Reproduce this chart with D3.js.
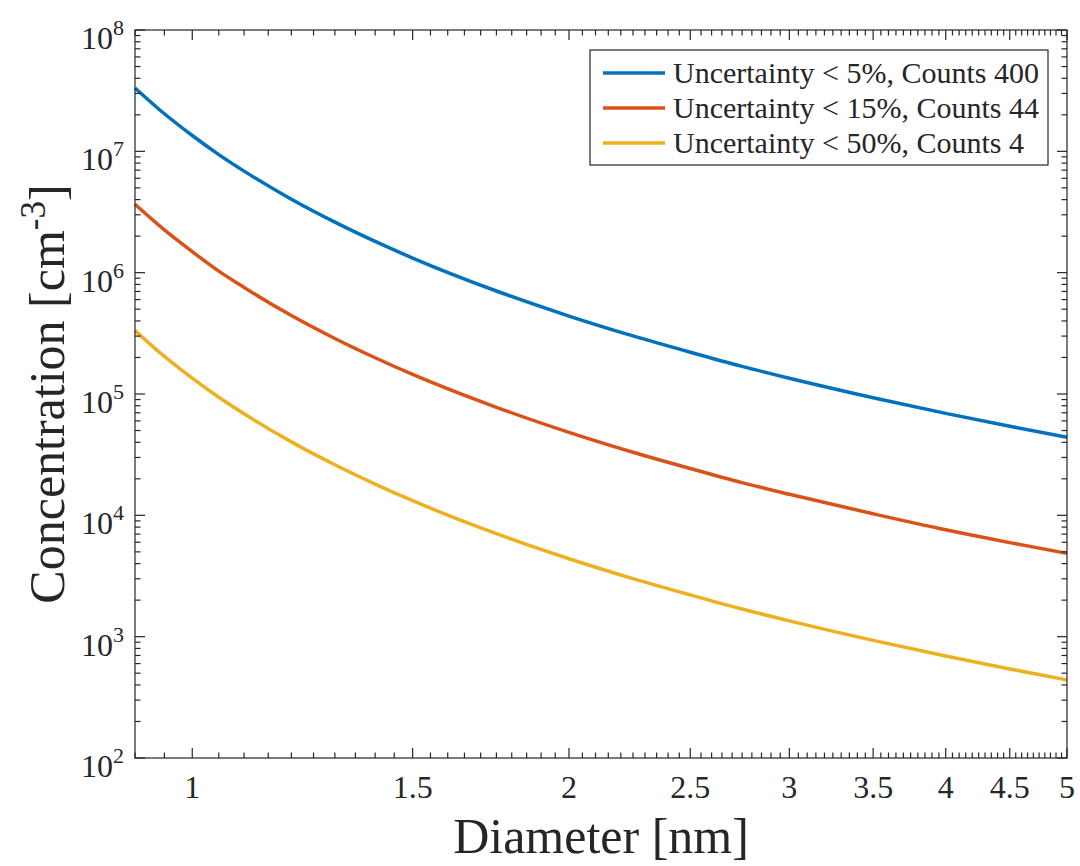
<!DOCTYPE html>
<html>
<head>
<meta charset="utf-8">
<script src="https://cdn.jsdelivr.net/npm/d3@7"></script>
<style>
  html, body { margin: 0; padding: 0; background: #fff; overflow: hidden; }
  svg { display: block; }
  svg text { font-family: "Liberation Serif", "Times New Roman", serif; fill: #262626; }
</style>
</head>
<body>
<div id="chart"></div>
<script>
// Data
const diameters = [0.9, 0.95, 1.0, 1.05, 1.1, 1.2, 1.3, 1.4, 1.5, 1.75, 2, 2.25, 2.5, 2.75, 3, 3.5, 4, 4.5, 5];
const conc5 = [3.33e7, 2.04e7, 1.35e7, 9.4e6, 6.87e6, 4.03e6, 2.61e6, 1.81e6, 1.32e6, 7.06e5, 4.39e5, 3.01e5, 2.21e5, 1.69e5, 1.35e5, 9.32e4, 6.92e4, 5.42e4, 4.40e4];
const conc15 = [3.66e6, 2.25e6, 1.49e6, 1.03e6, 7.56e5, 4.43e5, 2.87e5, 1.99e5, 1.45e5, 7.77e4, 4.83e4, 3.31e4, 2.43e4, 1.86e4, 1.49e4, 1.03e4, 7.6e3, 5.96e3, 4.86e3];
const conc50 = [3.33e5, 2.04e5, 1.35e5, 9.4e4, 6.87e4, 4.03e4, 2.61e4, 1.81e4, 1.32e4, 7.06e3, 4.39e3, 3.01e3, 2.21e3, 1.69e3, 1.35e3, 932, 692, 542, 440];
const seriesNames = ["Uncertainty < 5%, Counts 400", "Uncertainty < 15%, Counts 44", "Uncertainty < 50%, Counts 4"];
const seriesColors = ["#0072BD", "#D95319", "#EDB120"];
const xTickValues = [1, 1.5, 2, 2.5, 3, 3.5, 4, 4.5, 5];
const xTickLabels = ["1", "1.5", "2", "2.5", "3", "3.5", "4", "4.5", "5"];
const yExponents = [2, 3, 4, 5, 6, 7, 8];

const width = 1080, height = 866;
const margin = { top: 30, right: 13, bottom: 108, left: 135 };
const innerWidth = width - margin.left - margin.right;
const innerHeight = height - margin.top - margin.bottom;

const svg = d3.select("#chart")
    .append("svg")
    .attr("width", width)
    .attr("height", height);

const innerChart = svg.append("g")
    .attr("transform", `translate(${margin.left},${margin.top})`);

/**********/
/* Scales */
/**********/
const xScale = d3.scaleLog().domain([0.9, 5]).range([0, innerWidth]);
const yScale = d3.scaleLog().domain([1e2, 1e8]).range([innerHeight, 0]);

/*********/
/* Lines */
/*********/
const lineGen = d3.line()
    .x(d => xScale(d[0]))
    .y(d => yScale(d[1]))
    .curve(d3.curveMonotoneX);

const allSeries = [conc5, conc15, conc50];
allSeries.forEach((vals, i) => {
    innerChart.append("path")
        .datum(diameters.map((d, j) => [d, vals[j]]))
        .attr("fill", "none")
        .attr("stroke", seriesColors[i])
        .attr("stroke-width", 3.5)
        .attr("d", lineGen);
});

/********/
/* Axes */
/********/
const axisColor = "#262626";
const majorLen = 10, minorLen = 5.5;

// minor x ticks every 0.05
const xMinor = d3.range(18, 101).map(k => k * 0.05).filter(v => !xTickValues.some(t => Math.abs(t - v) < 1e-9));
// minor y ticks 2..9 x 10^k
const yMinor = [];
yExponents.slice(0, -1).forEach(e => { for (let m = 2; m <= 9; m++) yMinor.push(m * Math.pow(10, e)); });
const yMajor = yExponents.map(e => Math.pow(10, e));

const tickGroup = innerChart.append("g").attr("stroke", axisColor).attr("stroke-width", 1.2);

function addXTicks(values, len) {
    values.forEach(v => {
        const x = xScale(v);
        tickGroup.append("line").attr("x1", x).attr("x2", x).attr("y1", innerHeight).attr("y2", innerHeight - len);
        tickGroup.append("line").attr("x1", x).attr("x2", x).attr("y1", 0).attr("y2", len);
    });
}
function addYTicks(values, len) {
    values.forEach(v => {
        const y = yScale(v);
        tickGroup.append("line").attr("x1", 0).attr("x2", len).attr("y1", y).attr("y2", y);
        tickGroup.append("line").attr("x1", innerWidth).attr("x2", innerWidth - len).attr("y1", y).attr("y2", y);
    });
}
addXTicks(xMinor, minorLen);
addXTicks(xTickValues, majorLen);
addYTicks(yMinor, minorLen);
addYTicks(yMajor, majorLen);

// axis box
innerChart.append("rect")
    .attr("width", innerWidth)
    .attr("height", innerHeight)
    .attr("fill", "none")
    .attr("stroke", axisColor)
    .attr("stroke-width", 1.2);

// x tick labels
innerChart.append("g")
    .selectAll("text")
    .data(xTickValues)
    .join("text")
        .attr("x", d => xScale(d))
        .attr("y", innerHeight + 40)
        .attr("text-anchor", "middle")
        .attr("font-size", 32)
        .text((d, i) => xTickLabels[i]);

// y tick labels 10^k (base and exponent as separate texts)
const yLabelGroup = innerChart.append("g");
yLabelGroup.selectAll("text.base")
    .data(yExponents)
    .join("text")
        .attr("class", "base")
        .attr("x", -22)
        .attr("y", d => yScale(Math.pow(10, d)) + 19)
        .attr("text-anchor", "end")
        .attr("font-size", 32)
        .text("10");
yLabelGroup.selectAll("text.exp")
    .data(yExponents)
    .join("text")
        .attr("class", "exp")
        .attr("x", -22)
        .attr("y", d => yScale(Math.pow(10, d)) + 5)
        .attr("text-anchor", "start")
        .attr("font-size", 22)
        .text(d => d);

// x axis label
svg.append("text")
    .attr("x", margin.left + innerWidth / 2)
    .attr("y", 853)
    .attr("text-anchor", "middle")
    .attr("font-size", 50)
    .text("Diameter [nm]");

// y axis label, split so the superscript is its own text
const yTitle = svg.append("g")
    .attr("transform", `translate(64,${margin.top + innerHeight / 2}) rotate(-90)`);
const t1 = yTitle.append("text").attr("font-size", 50).text("Concentration [cm");
const t2 = yTitle.append("text").attr("font-size", 35).text("-3");
const t3 = yTitle.append("text").attr("font-size", 50).text("]");
const w1 = t1.node().getComputedTextLength();
const w2 = t2.node().getComputedTextLength();
const w3 = t3.node().getComputedTextLength();
const startX = -(w1 + w2 + w3) / 2;
t1.attr("x", startX).attr("y", 0);
t2.attr("x", startX + w1).attr("y", -19);
t3.attr("x", startX + w1 + w2).attr("y", 0);

/**********/
/* Legend */
/**********/
const legend = svg.append("g").attr("transform", "translate(590,50)");
legend.append("rect")
    .attr("width", 458)
    .attr("height", 115)
    .attr("fill", "#fff")
    .attr("stroke", axisColor)
    .attr("stroke-width", 1.2);
seriesNames.forEach((name, i) => {
    const y = 23 + i * 35;
    legend.append("line")
        .attr("x1", 13).attr("x2", 75)
        .attr("y1", y).attr("y2", y)
        .attr("stroke", seriesColors[i])
        .attr("stroke-width", 3.5);
    legend.append("text")
        .attr("x", 83)
        .attr("y", y + 10)
        .attr("font-size", 30)
        .text(name);
});
</script>
</body>
</html>
